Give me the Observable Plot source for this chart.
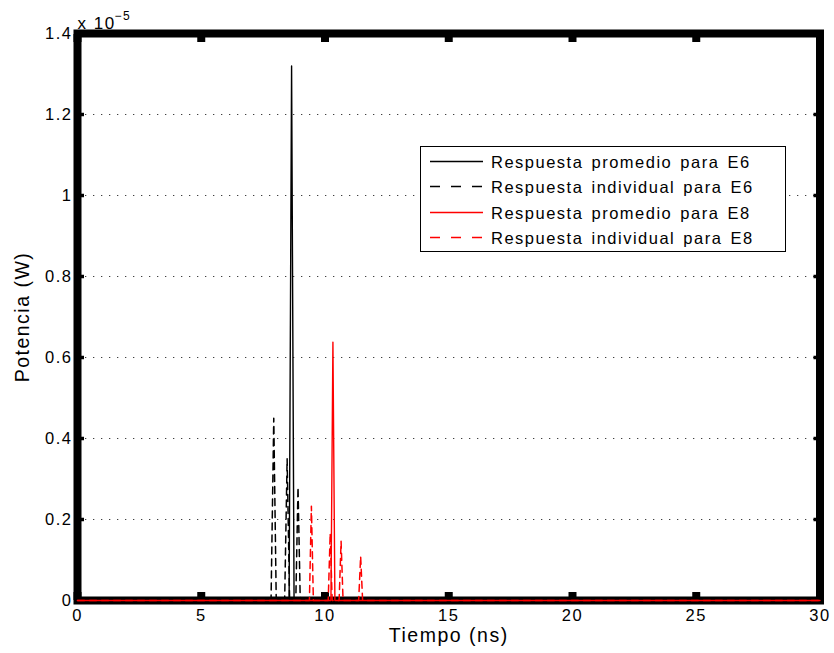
<!DOCTYPE html>
<html>
<head>
<meta charset="utf-8">
<script src="https://cdn.jsdelivr.net/npm/d3@7"></script>
<script src="https://cdn.jsdelivr.net/npm/@observablehq/plot@0.6"></script>
<style>
  body { margin: 0; background: #fff; }
  #wrap { position: relative; width: 834px; height: 653px; }
  #wrap svg text { letter-spacing: 1.5px; }
  #legend {
    position: absolute; left: 420px; top: 146px; width: 366px; height: 106px;
    box-sizing: border-box; border: 1px solid #000; background: #fff;
    font-family: "Liberation Sans", Arial, sans-serif; font-size: 16.5px;
    letter-spacing: 1.5px; word-spacing: 2px; color: #000;
  }
  #legend .row { position: absolute; left: 0; height: 24px; width: 100%; }
  #legend svg { position: absolute; left: 9px; top: 0; }
  #legend span { position: absolute; left: 70px; top: 1px; white-space: nowrap; line-height: 20px; }
</style>
</head>
<body>
<div id="wrap"></div>
<script>
// ---- Data (power in units of 1e-5 W, time in ns) ----
const tiempoPromE6 = [0, 8.55, 8.65, 8.75, 30];
const potenciaPromE6 = [0, 0, 1.32, 0, 0];

const tiempoIndE6 = [0, 7.82, 7.93, 8.03, 8.37, 8.47, 8.57, 8.82, 8.91, 9.0, 30];
const potenciaIndE6 = [0, 0, 0.45, 0, 0, 0.35, 0, 0, 0.28, 0, 0];

const tiempoPromE8 = [0, 10.24, 10.32, 10.40, 30];
const potenciaPromE8 = [0, 0, 0.638, 0, 0];

const tiempoIndE8 = [0, 9.37, 9.45, 9.53, 10.13, 10.21, 10.29, 10.57, 10.65, 10.73, 11.36, 11.44, 11.52, 30];
const potenciaIndE8 = [0, 0, 0.233, 0, 0, 0.166, 0, 0, 0.146, 0, 0, 0.109, 0, 0];

const xTicks = [0, 5, 10, 15, 20, 25, 30];
const xTickLabels = ["0", "5", "10", "15", "20", "25", "30"];
const yTicks = [0, 0.2, 0.4, 0.6, 0.8, 1.0, 1.2, 1.4];
const yTickLabels = ["0", "0.2", "0.4", "0.6", "0.8", "1", "1.2", "1.4"];
const yGrid = [0.2, 0.4, 0.6, 0.8, 1.0, 1.2];

const legendLabels = [
  "Respuesta promedio para E6",
  "Respuesta individual para E6",
  "Respuesta promedio para E8",
  "Respuesta individual para E8"
];
const seriesColors = ["#000000", "#000000", "#ff0000", "#ff0000"];
const seriesDashed = [false, true, false, true];

const xLabel = "Tiempo (ns)";
const yLabel = "Potencia (W)";
const exponentBase = "x 10";
const exponentPower = "\u22125";

// ---- Build table ----
const toRows = (t, p, s) => t.map((v, i) => ({ t: v, p: p[i], serie: s }));
const series = [
  toRows(tiempoPromE6, potenciaPromE6, 0),
  toRows(tiempoIndE6, potenciaIndE6, 1),
  toRows(tiempoPromE8, potenciaPromE8, 2),
  toRows(tiempoIndE8, potenciaIndE8, 3)
];

const font = '"Liberation Sans", Arial, Helvetica, sans-serif';

const lineMarks = [1, 0, 3, 2].map(i =>
  Plot.line(series[i], {
    x: "t", y: "p",
    stroke: seriesColors[i],
    strokeWidth: seriesDashed[i] ? 1.5 : 1.4,
    strokeDasharray: seriesDashed[i] ? "7,5" : null,
    curve: "linear"
  })
);

const plot = Plot.plot({
  width: 834,
  height: 653,
  marginLeft: 77,
  marginRight: 14.5,
  marginTop: 33,
  marginBottom: 53,
  x: { domain: [0, 30], label: null },
  y: { domain: [0, 1.4], label: null },
  style: { fontFamily: font, fontSize: "16px", color: "#000", background: "#fff", overflow: "visible" },
  marks: [
    Plot.gridY(yGrid, { stroke: "#000", strokeOpacity: 0.75, strokeWidth: 1.2, strokeDasharray: "1.3,6.7" }),
    Plot.frame({ stroke: "#000", strokeWidth: 8 }),
    // inward ticks
    Plot.axisX({ anchor: "bottom", ticks: xTicks, tickSize: -8, strokeWidth: 8, tickFormat: () => "", label: null }),
    Plot.axisX({ anchor: "top", ticks: xTicks, tickSize: -8, strokeWidth: 8, tickFormat: () => "", label: null }),
    Plot.axisY({ anchor: "left", ticks: yTicks, tickSize: -7, strokeWidth: 3.5, tickFormat: () => "", label: null }),
    Plot.axisY({ anchor: "right", ticks: yTicks, tickSize: -7, strokeWidth: 3.5, tickFormat: () => "", label: null }),
    // tick labels
    Plot.axisX({ anchor: "bottom", ticks: xTicks, tickSize: 0, tickPadding: 9, fontSize: 16.5,
      tickFormat: d => xTickLabels[xTicks.indexOf(d)], label: null }),
    Plot.axisY({ anchor: "left", ticks: yTicks, tickSize: 0, tickPadding: 5, fontSize: 16.5,
      tickFormat: d => yTickLabels[yTicks.indexOf(d)], label: null }),
    ...lineMarks,
    // axis titles
    Plot.text([xLabel], { frameAnchor: "bottom", dy: 35, fontSize: 19.5, textAnchor: "middle", lineAnchor: "middle", text: d => d }),
    Plot.text([yLabel], { frameAnchor: "left", dx: -55, rotate: -90, fontSize: 19.5, textAnchor: "middle", lineAnchor: "middle", text: d => d }),
    Plot.text([exponentBase], { frameAnchor: "top-left", dx: 0, dy: -10, fontSize: 17, textAnchor: "start", lineAnchor: "middle", text: d => d }),
    Plot.text([exponentPower], { frameAnchor: "top-left", dx: 37, dy: -17.5, fontSize: 12, textAnchor: "start", lineAnchor: "middle", text: d => d })
  ]
});

const wrap = document.getElementById("wrap");
wrap.appendChild(plot);

// ---- Legend ----
const legend = document.createElement("div");
legend.id = "legend";
legendLabels.forEach((lab, i) => {
  const row = document.createElement("div");
  row.className = "row";
  row.style.top = (4 + i * 25.3) + "px";
  const ns = "http://www.w3.org/2000/svg";
  const s = document.createElementNS(ns, "svg");
  s.setAttribute("width", "54");
  s.setAttribute("height", "24");
  const ln = document.createElementNS(ns, "line");
  ln.setAttribute("x1", "0"); ln.setAttribute("x2", "53");
  ln.setAttribute("y1", "10.5"); ln.setAttribute("y2", "10.5");
  ln.setAttribute("stroke", seriesColors[i]);
  ln.setAttribute("stroke-width", "1.4");
  if (seriesDashed[i]) ln.setAttribute("stroke-dasharray", "10,11");
  s.appendChild(ln);
  const sp = document.createElement("span");
  sp.textContent = lab;
  row.appendChild(s);
  row.appendChild(sp);
  legend.appendChild(row);
});
wrap.appendChild(legend);
</script>
</body>
</html>
